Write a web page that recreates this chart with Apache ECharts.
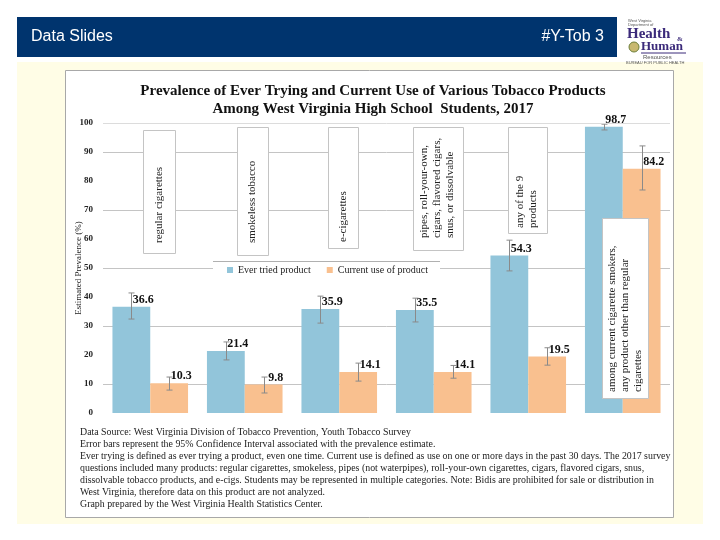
<!DOCTYPE html>
<html><head><meta charset="utf-8">
<script src="https://cdn.jsdelivr.net/npm/echarts@6/dist/echarts.min.js"></script>
<style>html,body{margin:0;padding:0;background:#fff}#c{width:720px;height:540px}</style>
</head><body><div id="c"></div>
<script>
// ---- data ----
const categories = [
  'regular cigarettes',
  'smokeless tobacco',
  'e-cigarettes',
  'pipes, roll-your-own, cigars, flavored cigars, snus, or dissolvable',
  'any of the 9 products',
  'among current cigarette smokers, any product other than regular cigarettes'
];
const everTried   = [36.6, 21.4, 35.9, 35.5, 54.3, 98.7];
const everLow     = [32.4, 18.3, 31.0, 31.4, 49.0, 97.6];
const everHigh    = [41.4, 24.5, 40.3, 39.6, 59.6, 99.6];
const currentUse  = [10.3, 9.8, 14.1, 14.1, 19.5, 84.2];
const currentLow  = [7.9, 6.9, 11.0, 12.0, 16.5, 76.9];
const currentHigh = [12.4, 12.4, 17.2, 16.4, 22.5, 92.1];
const seriesNames = ['Ever tried product', 'Current use of product'];
const yMin = 0, yMax = 100, yStep = 10;
const boxTexts = [
  'regular cigarettes',
  'smokeless tobacco',
  'e-cigarettes',
  'pipes, roll-your-own,\ncigars, flavored cigars,\nsnus, or dissolvable',
  'any of the 9\nproducts',
  'among current cigarette smokers,\nany product other than regular\ncigarettes'
];
const footnote = [
  'Data Source: West Virginia Division of Tobacco Prevention, Youth Tobacco Survey',
  'Error bars represent the 95% Confidence Interval associated with the prevalence estimate.',
  'Ever trying is defined as ever trying a product, even one time. Current use is defined as use on one or more days in the past 30 days. The 2017 survey',
  'questions included many products: regular cigarettes, smokeless, pipes (not waterpipes), roll-your-own cigarettes, cigars, flavored cigars, snus,',
  'dissolvable tobacco products, and e-cigs. Students may be represented in multiple categories. Note: Bidis are prohibited for sale or distribution in',
  'West Virginia, therefore data on this product are not analyzed.',
  'Graph prepared by the West Virginia Health Statistics Center.'
];

// ---- styling / layout ----
const SERIF = '"Liberation Serif","Times New Roman",serif';
const BLUE = '#92C5DA', ORANGE = '#F9C08F';
const boxGeom = [ // x, y, w, h, padX, padBottom
  [143,130,32,123,10,10],
  [237,127,31,128,9,12],
  [328,127,30,121,9,6],
  [413,127,50,123,5,12],
  [508,127,39,106,6,5],
  [602,218,46,180,4,6]
];
const graphics = [
  {type:'rect', z:-10, shape:{x:17,y:62,width:686,height:462}, style:{fill:'#FFFDE6'}},
  {type:'rect', z:-9, shape:{x:65.5,y:70.5,width:608,height:447}, style:{fill:'#fff',stroke:'#a8a8a8',lineWidth:1}},
  {type:'rect', z:-8, shape:{x:17,y:17,width:600,height:40}, style:{fill:'#00346E'}},
  {type:'text', z:5, x:31, y:37, style:{text:'Data Slides', fill:'#fff', font:'16px "Liberation Sans", Carlito, sans-serif', textVerticalAlign:'middle'}},
  {type:'text', z:5, x:604, y:37, style:{text:'#Y-Tob 3', fill:'#fff', font:'16px "Liberation Sans", Carlito, sans-serif', textAlign:'right', textVerticalAlign:'middle'}},
  // logo
  {type:'text', z:5, x:628, y:19, style:{text:'West Virginia\nDepartment of', fill:'#555', font:'4px sans-serif', lineHeight:4}},
  {type:'text', z:5, x:627, y:27, style:{text:'Health', fill:'#3B2A7A', font:'bold 15px '+SERIF}},
  {type:'text', z:5, x:677, y:36, style:{text:'&', fill:'#3B2A7A', font:'bold 7px '+SERIF}},
  {type:'circle', z:5, shape:{cx:634,cy:47,r:5}, style:{fill:'#C8B870',stroke:'#6E7F3A',lineWidth:1}},
  {type:'text', z:5, x:641, y:40, style:{text:'Human', fill:'#3B2A7A', font:'bold 13px '+SERIF}},
  {type:'line', z:5, shape:{x1:641,y1:53,x2:686,y2:53}, style:{stroke:'#3B2A7A',lineWidth:1}},
  {type:'text', z:5, x:643, y:54, style:{text:'Resources', fill:'#555', font:'6px sans-serif'}},
  {type:'text', z:5, x:626, y:61, style:{text:'BUREAU FOR PUBLIC HEALTH', fill:'#555', font:'4px sans-serif'}},
  // legend top border
  {type:'line', z:20, shape:{x1:213,y1:261.5,x2:440,y2:261.5}, style:{stroke:'#b0b0b0',lineWidth:1}},
  // footnote
  {type:'text', z:5, x:80, y:426, style:{text:footnote.join('\n'), fill:'#222', font:'9.9px '+SERIF, lineHeight:12}}
];
boxGeom.forEach((b, i) => {
  graphics.push({type:'rect', z:30, shape:{x:b[0]+0.5,y:b[1]+0.5,width:b[2],height:b[3]}, style:{fill:'#fff',stroke:'#c4c4c4',lineWidth:1}});
  graphics.push({type:'text', z:31, x:b[0]+b[4], y:b[1]+b[3]-b[5], rotation:Math.PI/2,
    style:{text:boxTexts[i], fill:'#222', font:'11px '+SERIF, lineHeight:13, textAlign:'left', textVerticalAlign:'top'}});
});

function errRenderer(side) {
  return function (params, api) {
    const i = api.value(0);
    const lo = api.coord([i, api.value(1)]);
    const hi = api.coord([i, api.value(2)]);
    const band = api.size([1, 0])[0];
    const bw = band * 0.8 / 2;
    const x = Math.round(lo[0] + side * bw / 2) + 0.5;
    const cap = 3;
    const style = {stroke: '#8a8a8a', lineWidth: 1};
    return {type: 'group', children: [
      {type: 'line', shape: {x1: x, y1: hi[1], x2: x, y2: lo[1]}, style},
      {type: 'line', shape: {x1: x - cap, y1: hi[1], x2: x + cap, y2: hi[1]}, style},
      {type: 'line', shape: {x1: x - cap, y1: lo[1], x2: x + cap, y2: lo[1]}, style}
    ]};
  };
}

const barLabel = {show: true, position: 'top', offset: [12, 4], color: '#111', fontFamily: SERIF, fontWeight: 'bold', fontSize: 12};

const chart = echarts.init(document.getElementById('c'), null, {renderer: 'canvas'});
chart.setOption({
  animation: false,
  backgroundColor: '#fff',
  title: {
    text: 'Prevalence of Ever Trying and Current Use of Various Tobacco Products\nAmong West Virginia High School  Students, 2017',
    left: 368, top: 77, textAlign: 'center',
    textStyle: {fontFamily: SERIF, fontWeight: 'bold', fontSize: 15, lineHeight: 18, color: '#111'}
  },
  legend: {
    data: seriesNames,
    left: 213, top: 261,
    padding: [4, 12, 4, 14],
    itemWidth: 6, itemHeight: 6, itemGap: 16,
    backgroundColor: '#fff',
    icon: 'rect',
    textStyle: {fontFamily: SERIF, fontSize: 10, color: '#222'},
    z: 20
  },
  grid: {left: 103, right: 50, top: 123, bottom: 127},
  xAxis: {
    type: 'category', data: categories,
    axisLine: {show: false}, axisTick: {show: false}, axisLabel: {show: false}
  },
  yAxis: {
    type: 'value', min: yMin, max: yMax, interval: yStep,
    name: 'Estimated Prevalence (%)', nameLocation: 'middle', nameGap: 20, nameRotate: 90,
    nameMoveOverlap: false,
    nameTextStyle: {fontFamily: SERIF, fontSize: 9, color: '#222'},
    axisLine: {show: false}, axisTick: {show: false},
    axisLabel: {fontFamily: SERIF, fontSize: 9, fontWeight: 'bold', color: '#222', margin: 10},
    splitLine: {show: true, lineStyle: {color: ['rgba(0,0,0,0)', '#c4c4c4'], width: 1}}
  },
  graphic: graphics,
  series: [
    {
      name: seriesNames[0], type: 'bar', data: everTried, barGap: '0%', barCategoryGap: '20%',
      itemStyle: {color: BLUE}, label: barLabel,
      markLine: {silent: true, symbol: 'none', label: {show: false},
        lineStyle: {color: '#dcdcdc', type: 'solid', width: 1}, data: [{yAxis: yMax}]}
    },
    {
      name: seriesNames[1], type: 'bar', data: currentUse,
      itemStyle: {color: ORANGE}, label: barLabel
    },
    {
      type: 'custom', renderItem: errRenderer(-1), z: 3, silent: true,
      encode: {x: 0, y: [1, 2]},
      data: everTried.map((v, i) => [i, everLow[i], everHigh[i]])
    },
    {
      type: 'custom', renderItem: errRenderer(1), z: 3, silent: true,
      encode: {x: 0, y: [1, 2]},
      data: currentUse.map((v, i) => [i, currentLow[i], currentHigh[i]])
    }
  ]
});
</script></body></html>
